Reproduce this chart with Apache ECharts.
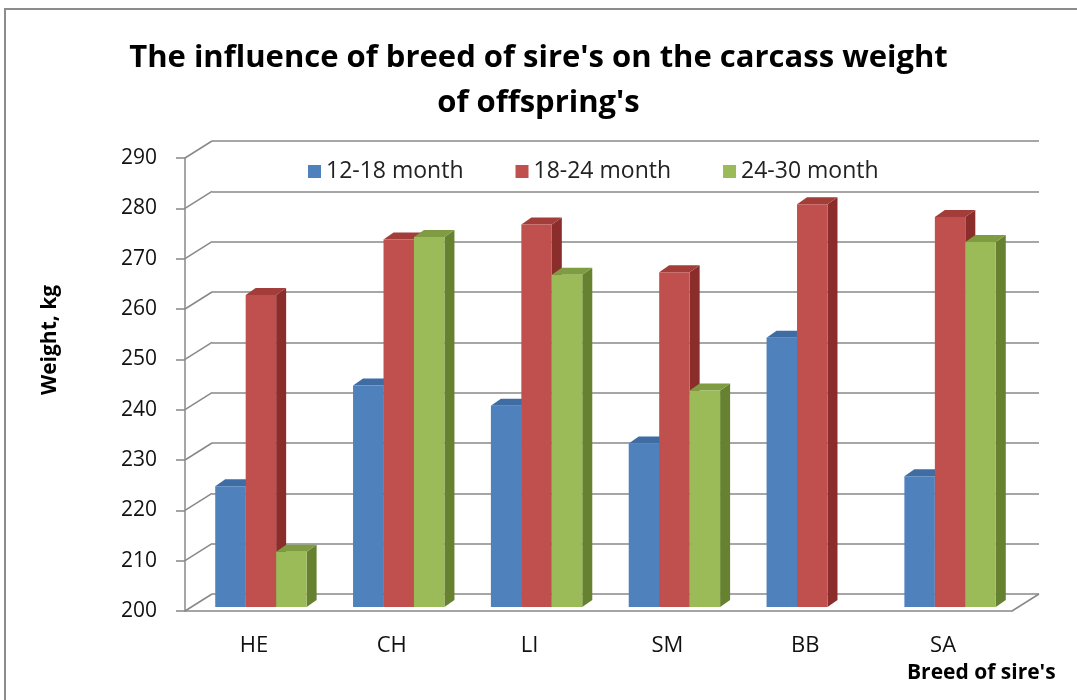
<!DOCTYPE html>
<html>
<head>
<meta charset="utf-8">
<script src="https://cdn.jsdelivr.net/npm/echarts@6/dist/echarts.min.js"></script>
<style>
  html, body { margin: 0; padding: 0; background: #fff; }
  #chart { width: 1077px; height: 700px; }
</style>
</head>
<body>
<div id="chart"></div>
<script>
const categories = ['HE', 'CH', 'LI', 'SM', 'BB', 'SA']
const seriesNames = ['12-18 month', '18-24 month', '24-30 month']
const m12to18 = [224, 244, 240, 232.5, 253.5, 226]
const m18to24 = [262, 273, 276, 266.5, 280, 277.5]
const m24to30 = [211, 273.5, 266, 243, null, 272.5]
const yTicks = [200, 210, 220, 230, 240, 250, 260, 270, 280, 290]

const FONT = 'Open Sans'
const DEPTH_X = 27, DEPTH_Y = 17   // wall depth
const BAR_DX = 10, BAR_DY = 7      // bar depth

const chart = echarts.init(document.getElementById('chart'))

// 3D-looking bar: front face, side face, top face
function barRenderer(k, colors) {
  return function (params, api) {
    const v = api.value(1)
    if (v == null || isNaN(v)) return
    const band = api.size([1, 0])[0]
    const w = band * 0.221
    const top = api.coord([api.value(0), v])
    const base = api.coord([api.value(0), yTicks[0]])
    const x0 = top[0] + (k - 1.5) * w
    const y0 = top[1], y1 = base[1]
    return {
      type: 'group',
      children: [
        { type: 'polygon', shape: { points: [[x0 + w, y0], [x0 + w + BAR_DX, y0 - BAR_DY], [x0 + w + BAR_DX, y1 - BAR_DY], [x0 + w, y1]] },
          style: { fill: colors[1] } },
        { type: 'polygon', shape: { points: [[x0, y0], [x0 + BAR_DX, y0 - BAR_DY], [x0 + w + BAR_DX, y0 - BAR_DY], [x0 + w, y0]] },
          style: { fill: colors[2] } },
        { type: 'rect', shape: { x: x0, y: y0, width: w, height: y1 - y0 },
          style: { fill: colors[0] } }
      ]
    }
  }
}

// diagonal lines joining front axis ticks to the back wall gridlines
function diagRenderer(params, api) {
  const v = api.value(1)
  const y = api.coord([0, v])[1]
  const x = params.coordSys.x
  const lines = [{ type: 'line', shape: { x1: x, y1: y, x2: x + DEPTH_X, y2: y - DEPTH_Y },
    style: { stroke: '#888', lineWidth: 1.5 } }]
  if (v === yTicks[0]) {
    const xr = x + params.coordSys.width
    lines.push({ type: 'line', shape: { x1: xr, y1: y, x2: xr + DEPTH_X, y2: y - DEPTH_Y },
      style: { stroke: '#888', lineWidth: 1.5 } })
  }
  return { type: 'group', children: lines }
}

const palette = [
  ['#4F81BD', '#375B89', '#3E6CA3'],
  ['#C0504D', '#8A2D2B', '#A23D3A'],
  ['#9BBB59', '#66812F', '#7F9C42']
]
const values = [m12to18, m18to24, m24to30]

const barSeries = values.map((arr, k) => ({
  name: seriesNames[k],
  type: 'custom',
  xAxisIndex: 2,
  yAxisIndex: 2,
  itemStyle: { color: palette[k][0] },
  renderItem: barRenderer(k, palette[k]),
  encode: { x: 0, y: 1 },
  data: arr.map((v, i) => [i, v == null ? NaN : v]),
  z: 3
}))

chart.setOption({
  backgroundColor: '#fff',
  animation: false,
  title: [
    {
      text: "The influence of breed of sire's on the carcass weight\nof offspring's",
      left: 'center',
      top: 31,
      textStyle: { fontFamily: FONT, fontSize: 31, fontWeight: 'bold', color: '#000', lineHeight: 45 }
    },
    {
      text: "Breed of sire's",
      left: 902,
      top: 658,
      textStyle: { fontFamily: FONT, fontSize: 21, fontWeight: 'bold', color: '#000' }
    }
  ],
  legend: {
    data: seriesNames,
    left: 303,
    top: 155,
    icon: 'rect',
    itemWidth: 13,
    itemHeight: 13,
    itemGap: 52,
    textStyle: { fontFamily: FONT, fontSize: 23, color: '#222' }
  },
  grid: [
    // back wall
    { left: 212, right: 38, top: 141, bottom: 106 },
    // front axes
    { left: 185, right: 65, top: 158, bottom: 89 },
    // bars
    { left: 192, right: 58, top: 154, bottom: 93 }
  ],
  xAxis: [
    { gridIndex: 0, type: 'category', data: categories, show: false },
    {
      gridIndex: 1, type: 'category', data: categories,
      axisLine: { lineStyle: { color: '#888', width: 1.5 } },
      axisTick: { length: 7, lineStyle: { color: '#888', width: 1.5 } },
      axisLabel: { fontFamily: FONT, fontSize: 22, color: '#111', margin: 24 }
    },
    { gridIndex: 2, type: 'category', data: categories, show: false }
  ],
  yAxis: [
    {
      gridIndex: 0, type: 'value', min: 200, max: 290, interval: 10,
      axisLine: { show: false }, axisTick: { show: false }, axisLabel: { show: false },
      splitLine: { lineStyle: { color: '#888', width: 1.5 } }
    },
    {
      gridIndex: 1, type: 'value', min: 200, max: 290, interval: 10,
      axisLine: { show: true, lineStyle: { color: '#888', width: 1.5 } },
      axisTick: { show: true, length: 9, lineStyle: { color: '#888', width: 1.5 } },
      axisLabel: { fontFamily: FONT, fontSize: 21, color: '#111', margin: 28 },
      splitLine: { show: false }
    },
    { gridIndex: 2, type: 'value', min: 200, max: 290, show: false, splitLine: { show: false } }
  ],
  series: [
    {
      type: 'custom',
      xAxisIndex: 1,
      yAxisIndex: 1,
      renderItem: diagRenderer,
      encode: { x: 0, y: 1 },
      data: yTicks.map(v => [0, v]),
      silent: true,
      z: 1
    },
    ...barSeries
  ],
  graphic: [
    {
      type: 'rect',
      shape: { x: 5, y: 9, width: 1100, height: 720 },
      style: { fill: 'none', stroke: '#8c8c8c', lineWidth: 2 },
      silent: true
    },
    {
      type: 'text',
      x: 50,
      y: 340,
      rotation: Math.PI / 2,
      style: {
        text: 'Weight, kg',
        fontFamily: FONT, fontSize: 21, fontWeight: 'bold', fill: '#000',
        textAlign: 'center', textVerticalAlign: 'middle'
      }
    }
  ]
})
</script>
</body>
</html>
